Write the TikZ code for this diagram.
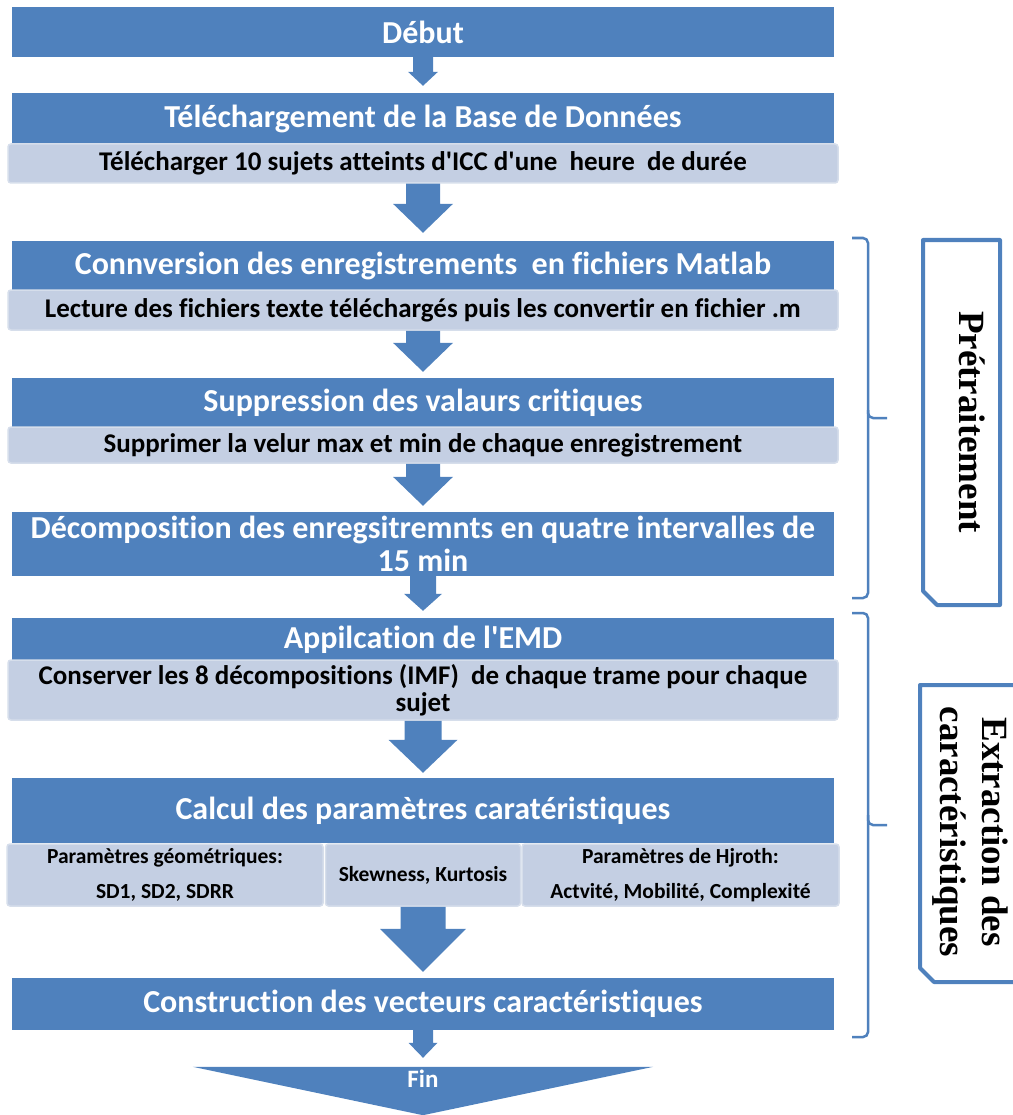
\documentclass[tikz,border=0pt]{standalone}
\usepackage{fontspec}
\setmainfont[Ligatures={NoCommon}]{Carlito}
\newfontfamily\timesfont{Liberation Serif}
\usetikzlibrary{calc}
\definecolor{myblue}{HTML}{4F81BD}
\definecolor{mylight}{HTML}{C4CFE3}
\definecolor{mylightedge}{HTML}{D6DEEB}
\newcommand\q{\textquotesingle}
\newcommand\blockarr[6]{%
 \fill[myblue] let \p1=(#1.south), \p2=($(#2.north)+(0,-#3)$) in
 ({\x1-#4pt},\y1) -- ({\x1+#4pt},\y1) -- ({\x1+#4pt},{\y2+#6pt}) -- ({\x1+#5pt},{\y2+#6pt})
 -- (\x1,\y2) -- ({\x1-#5pt},{\y2+#6pt}) -- ({\x1-#4pt},{\y2+#6pt}) -- cycle;}
\tikzset{
 bluebox/.style={fill=myblue, draw=none, text=white, inner sep=0pt, minimum width=822pt,
   font=\bfseries\fontsize{32}{33}\selectfont, align=center},
 lightbox/.style={fill=mylight, draw=mylightedge, line width=1.5pt, rounded corners=3pt,
   inner sep=0pt, minimum width=830pt, font=\bfseries\fontsize{27}{27}\selectfont, align=center},
 cellbox/.style={lightbox, font=\bfseries\fontsize{21.5}{35}\selectfont},
 brace/.style={draw=myblue, line width=2.5pt, rounded corners=5pt},
 sidebox/.style={draw=myblue, line width=4pt, line join=round},
 sidetext/.style={rotate=-90, font=\timesfont\bfseries\fontsize{37}{42}\selectfont, align=center, inner sep=0pt}
}
\begin{document}
\begin{tikzpicture}[x=1pt,y=-1pt]
\useasboundingbox (0,0) rectangle (1012,1115);
% main boxes
\node[bluebox, minimum height=50pt] (B0) at (423,32) {Début};
\node[bluebox, minimum height=51pt] (B1) at (423,118.5) {Téléchargement de la Base de Données};
\node[lightbox, minimum height=39pt] (L1) at (423,163.5) {Télécharger 10 sujets atteints d\q ICC d\q une\ \ heure\ \ de durée};
\node[bluebox, minimum height=49pt] (B2) at (423,265.5) {Connversion des enregistrements\ \ en fichiers Matlab};
\node[lightbox, minimum height=40pt] (L2) at (423,310) {Lecture des fichiers texte téléchargés puis les convertir en fichier .m};
\node[bluebox, minimum height=49pt] (B3) at (423,402.5) {Suppression des valaurs critiques};
\node[lightbox, minimum height=36pt] (L3) at (423,445) {Supprimer la velur max et min de chaque enregistrement};
\node[bluebox, minimum height=64pt] (B4) at (423,544) {Décomposition des enregsitremnts en quatre intervalles de\\15 min};
\node[bluebox, minimum height=43pt] (B5) at (423,639.5) {Appilcation de l\q EMD};
\node[lightbox, minimum height=60pt] (L5) at (423,690) {Conserver les 8 décompositions (IMF)\ \ de chaque trame pour chaque\\sujet};
\node[bluebox, minimum height=65pt] (B6) at (423,810.5) {Calcul des paramètres caratéristiques};
\node[cellbox, minimum width=316pt, minimum height=62pt] (C1) at (165,875) {Paramètres géométriques:\\SD1, SD2, SDRR};
\node[cellbox, minimum width=195pt, minimum height=62pt] (C2) at (423,875) {Skewness, Kurtosis};
\node[cellbox, minimum width=317pt, minimum height=62pt] (C3) at (680.5,875) {Paramètres de Hjroth:\\Actvité, Mobilité, Complexité};
\node[bluebox, minimum height=52pt] (B7) at (423,1004) {Construction des vecteurs caractéristiques};
% end triangle
\node[inner sep=0pt, minimum width=460pt, minimum height=48pt] (fin) at (423,1091) {};
\fill[myblue] (fin.north west) -- (fin.north east) -- (fin.south) -- cycle;
\node[text=white, font=\bfseries\fontsize{25}{25}\selectfont, inner sep=0pt] (finlabel) at (423,1079) {Fin};
% arrows
\blockarr{B0}{B1}{7}{10}{15}{14}
\blockarr{L1}{B2}{8}{17}{30}{29}
\blockarr{L2}{B3}{6}{17}{30}{29}
\blockarr{L3}{B4}{6}{17}{30}{29}
\blockarr{B4}{B5}{7}{13}{19}{17}
\blockarr{L5}{B6}{5}{18.5}{34.5}{33}
\blockarr{C2}{B7}{6}{22.5}{43}{43}
\blockarr{B7}{fin}{9}{10}{14.5}{15}
% braces
\draw[brace] (852,238) -| (868,418) -- (887,418);
\draw[brace] (868,410) |- (852,598);
\draw[brace] (852,613) -| (868,825) -- (887,825);
\draw[brace] (868,815) |- (852,1037);
% side boxes
\draw[sidebox] (923,240) -- (1000,240) -- (1000,605) -- (937,605) -- (923,591) -- cycle;
\node[sidetext] (pre) at (972,422) {Prétraitement};
\draw[sidebox] (1014,685) -- (920,685) -- (920,968) -- (934,982) -- (1014,982);
\node[sidetext] (ext) at (970,832) {Extraction des\\caractéristiques};
\end{tikzpicture}
\end{document}
